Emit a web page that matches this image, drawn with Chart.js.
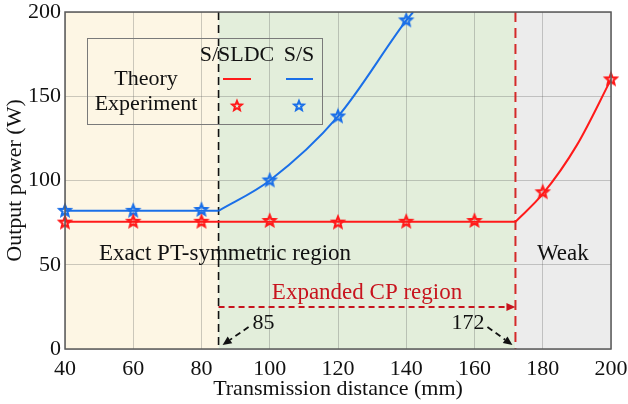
<!DOCTYPE html>
<html lang="en">
<head>
    <meta charset="UTF-8">
    <title>Output power vs transmission distance</title>
    <style>
        body{
            margin: 0;
            overflow: hidden;
            background: #fff;
        }
        #wrap{
            width: 628px;
            height: 404px;
        }
    </style>
</head>
<body>
<div id="wrap"><canvas id="chart"></canvas></div>
<script src="https://cdn.jsdelivr.net/npm/chart.js"></script>
<script>
    // values
    const distance = [40, 60, 80, 100, 120, 140, 160, 180, 200];
    const sldcMeasured = [75, 75.5, 75.5, 76, 75, 75.5, 76, 93, 160];
    const ssMeasured = [82, 82, 82.5, 100, 138, 195];

    // theory curves: flat part + rising part
    const sldcFlatX = [40, 172];
    const sldcFlatY = [75.5, 75.5];
    const sldcRiseX = [172, 180, 190, 200];
    const sldcRiseY = [75.5, 92, 121, 160];
    const ssFlatX = [40, 85];
    const ssFlatY = [82, 82];
    const ssRiseX = [85, 100, 120, 140, 142];
    const ssRiseY = [82, 100, 138, 195, 200];

    const regionEdges = [40, 85, 172, 200];
    const regionColors = ['#fdf6e4', '#e3eedb', '#ececec'];
    const xTicks = [40, 60, 80, 100, 120, 140, 160, 180, 200];
    const yTicks = [0, 50, 100, 150, 200];

    const RED = '#ff1a1a';
    const BLUE = '#1a6fe8';
    const DARKRED = '#c8141e';
    const FONT = '"Liberation Serif", "Times New Roman", serif';

    function pairs(xs, ys) {
        return xs.map((x, i) => ({x: x, y: ys[i]})).filter(p => p.y != null);
    }

    function makeStar(color, outer, inner, lw) {
        const size = Math.ceil(outer * 2 + lw * 2 + 2);
        const c = document.createElement('canvas');
        c.width = size;
        c.height = size;
        const g = c.getContext('2d');
        g.beginPath();
        for (let i = 0; i < 10; i++) {
            const r = i % 2 === 0 ? outer : inner;
            const a = -Math.PI / 2 + i * Math.PI / 5;
            const px = size / 2 + r * Math.cos(a);
            const py = size / 2 + r * Math.sin(a);
            if (i === 0) g.moveTo(px, py); else g.lineTo(px, py);
        }
        g.closePath();
        g.strokeStyle = color;
        g.lineWidth = lw;
        g.stroke();
        return c;
    }

    const redStar = makeStar(RED, 5.8, 2.6, 2.2);
    const blueStar = makeStar(BLUE, 5.8, 2.6, 2.2);
    const redStarSmall = makeStar(RED, 5, 2.2, 2);
    const blueStarSmall = makeStar(BLUE, 5, 2.2, 2);

    function arrow(ctx, x1, y1, x2, y2, color, dash, lw) {
        const ang = Math.atan2(y2 - y1, x2 - x1);
        const head = 9, half = 4;
        ctx.save();
        ctx.strokeStyle = color;
        ctx.fillStyle = color;
        ctx.lineWidth = lw;
        ctx.setLineDash(dash);
        ctx.beginPath();
        ctx.moveTo(x1, y1);
        ctx.lineTo(x2 - head * Math.cos(ang), y2 - head * Math.sin(ang));
        ctx.stroke();
        ctx.setLineDash([]);
        ctx.beginPath();
        ctx.moveTo(x2, y2);
        ctx.lineTo(x2 - head * Math.cos(ang) + half * Math.sin(ang), y2 - head * Math.sin(ang) - half * Math.cos(ang));
        ctx.lineTo(x2 - head * Math.cos(ang) - half * Math.sin(ang), y2 - head * Math.sin(ang) + half * Math.cos(ang));
        ctx.closePath();
        ctx.fill();
        ctx.restore();
    }

    const regionsPlugin = {
        id: 'regions',
        beforeDraw(chart) {
            const {ctx, chartArea: a, scales: {x}} = chart;
            ctx.save();
            ctx.fillStyle = '#fff';
            ctx.fillRect(0, 0, chart.width, chart.height);
            for (let i = 0; i < regionColors.length; i++) {
                const x1 = x.getPixelForValue(regionEdges[i]);
                const x2 = x.getPixelForValue(regionEdges[i + 1]);
                ctx.fillStyle = regionColors[i];
                ctx.fillRect(x1, a.top, x2 - x1, a.bottom - a.top);
            }
            ctx.restore();
        },
        beforeDatasetsDraw(chart) {
            const {ctx, chartArea: a, scales: {x, y}} = chart;
            const x85 = x.getPixelForValue(85);
            const x172 = x.getPixelForValue(172);
            const y0 = y.getPixelForValue(0);
            ctx.save();
            // boundary lines
            ctx.lineWidth = 1.6;
            ctx.setLineDash([8, 5]);
            ctx.strokeStyle = '#111';
            ctx.beginPath();
            ctx.moveTo(x85, a.top);
            ctx.lineTo(x85, a.bottom);
            ctx.stroke();
            ctx.lineWidth = 2;
            ctx.setLineDash([10, 6]);
            ctx.strokeStyle = '#d42a2a';
            ctx.beginPath();
            ctx.moveTo(x172, a.top);
            ctx.lineTo(x172, a.bottom);
            ctx.stroke();
            ctx.restore();

            // expanded region arrow
            const yArrow = y.getPixelForValue(25);
            arrow(ctx, x85, yArrow, x172, yArrow, DARKRED, [6, 4], 2);
            arrow(ctx, x85 + 30, y0 - 22, x85 + 4, y0 - 4, '#111', [6, 4], 1.8);
            arrow(ctx, x172 - 28, y0 - 22, x172 - 3, y0 - 4, '#111', [6, 4], 1.8);

            ctx.save();
            ctx.font = '23px ' + FONT;
            ctx.textBaseline = 'middle';
            ctx.fillStyle = '#111';
            ctx.textAlign = 'left';
            ctx.fillText('Exact PT-symmetric region', 99, y.getPixelForValue(56.5));
            ctx.fillText('Weak', x.getPixelForValue(178.3), y.getPixelForValue(56.5));
            ctx.font = '22px ' + FONT;
            ctx.fillText('85', x85 + 34, y0 - 26);
            ctx.textAlign = 'right';
            ctx.fillText('172', x172 - 31, y0 - 26);
            ctx.textAlign = 'center';
            ctx.fillStyle = DARKRED;
            ctx.font = '23px ' + FONT;
            ctx.fillText('Expanded CP region', (x85 + x172) / 2, yArrow - 14);

            // legend table
            ctx.font = '22px ' + FONT;
            ctx.strokeStyle = '#7a7a7a';
            ctx.lineWidth = 1;
            ctx.strokeRect(87.5, 38.5, 235, 86);
            ctx.fillStyle = '#111';
            ctx.fillText('S/SLDC', 237, 55);
            ctx.fillText('S/S', 299, 55);
            ctx.fillText('Theory', 146, 79);
            ctx.fillText('Experiment', 146, 104);
            ctx.lineWidth = 2;
            ctx.strokeStyle = RED;
            ctx.beginPath();
            ctx.moveTo(223, 79);
            ctx.lineTo(251, 79);
            ctx.stroke();
            ctx.strokeStyle = BLUE;
            ctx.beginPath();
            ctx.moveTo(286, 79);
            ctx.lineTo(313, 79);
            ctx.stroke();
            ctx.drawImage(redStarSmall, 237 - redStarSmall.width / 2, 106 - redStarSmall.height / 2);
            ctx.drawImage(blueStarSmall, 299 - blueStarSmall.width / 2, 106 - blueStarSmall.height / 2);
            ctx.restore();
        },
        afterDraw(chart) {
            const {ctx, chartArea: a} = chart;
            ctx.save();
            ctx.strokeStyle = '#5a5a5a';
            ctx.lineWidth = 1.5;
            ctx.strokeRect(a.left, a.top, a.right - a.left, a.bottom - a.top);
            ctx.restore();
        }
    };

    const lineSet = (xs, ys, color, mode) => ({
        data: pairs(xs, ys),
        borderColor: color,
        borderWidth: 2,
        pointRadius: 0,
        cubicInterpolationMode: mode,
        fill: false,
        order: 2
    });
    const pointSet = (ys, img) => ({
        data: pairs(distance, ys),
        showLine: false,
        pointStyle: img,
        pointRadius: 6,
        clip: false,
        order: 1
    });

    Chart.defaults.font.family = FONT;
    Chart.defaults.color = '#111';

    new Chart(document.getElementById('chart'), {
        type: 'line',
        data: {
            datasets: [
                lineSet(sldcFlatX, sldcFlatY, RED, 'default'),
                lineSet(sldcRiseX, sldcRiseY, RED, 'monotone'),
                lineSet(ssFlatX, ssFlatY, BLUE, 'default'),
                lineSet(ssRiseX, ssRiseY, BLUE, 'monotone'),
                pointSet(sldcMeasured, redStar),
                pointSet(ssMeasured, blueStar)
            ]
        },
        options: {
            responsive: true,
            maintainAspectRatio: false,
            animation: false,
            layout: {padding: {top: 12, right: 17, left: 0, bottom: 0}},
            plugins: {
                legend: {display: false},
                tooltip: {enabled: false}
            },
            scales: {
                x: {
                    type: 'linear',
                    min: 40,
                    max: 200,
                    afterBuildTicks: s => { s.ticks = xTicks.map(v => ({value: v})); },
                    afterFit: s => { s.height = 55; s.paddingLeft = 0; s.paddingRight = 0; },
                    grid: {color: 'rgba(90,90,90,0.3)', drawTicks: false},
                    border: {display: false},
                    ticks: {font: {size: 22}, padding: 7, maxRotation: 0},
                    title: {
                        display: true,
                        text: 'Transmission distance (mm)',
                        font: {size: 22, lineHeight: 1},
                        padding: {top: 0, bottom: 4}
                    }
                },
                y: {
                    min: 0,
                    max: 200,
                    afterBuildTicks: s => { s.ticks = yTicks.map(v => ({value: v})); },
                    afterFit: s => { s.width = 65; s.paddingTop = 0; s.paddingBottom = 0; },
                    grid: {color: 'rgba(90,90,90,0.3)', drawTicks: false},
                    border: {display: false},
                    ticks: {font: {size: 22}, padding: 4},
                    title: {
                        display: true,
                        text: 'Output power (W)',
                        font: {size: 22, lineHeight: 1},
                        padding: {top: 4, bottom: 0}
                    }
                }
            }
        },
        plugins: [regionsPlugin]
    });
</script>
</body>
</html>
